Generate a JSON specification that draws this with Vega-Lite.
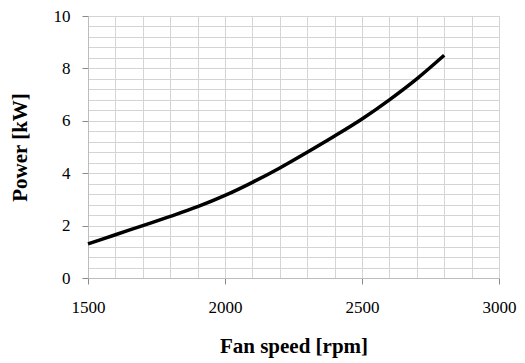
{
  "$schema": "https://vega.github.io/schema/vega-lite/v6.json",
  "autosize": "none",
  "padding": {"left": 88, "top": 16, "right": 26, "bottom": 85},
  "width": 411,
  "height": 262,
  "background": "white",
  "config": {
    "font": "Liberation Serif",
    "view": {"stroke": "#d4d4d4", "strokeWidth": 1},
    "style": {"guide-label": {"font": "Liberation Serif", "fontSize": 17, "fill": "#000"}, "guide-title": {"font": "Liberation Serif"}},
    "axis": {"labelFont": "Liberation Serif", "labelFontSize": 17, "titleFont": "Liberation Serif", "labelColor": "#000", "titleColor": "#000", "gridColor": "#d4d4d4", "gridWidth": 1, "domainColor": "#bcbcbc", "tickColor": "#8a8a8a"}
  },
  "data": {"values": [
    {"speed": 1500, "power": 1.3},
    {"speed": 1600, "power": 1.65},
    {"speed": 1700, "power": 2.0},
    {"speed": 1800, "power": 2.35},
    {"speed": 1900, "power": 2.72},
    {"speed": 2000, "power": 3.15},
    {"speed": 2100, "power": 3.65},
    {"speed": 2200, "power": 4.2},
    {"speed": 2300, "power": 4.8},
    {"speed": 2400, "power": 5.42},
    {"speed": 2500, "power": 6.07},
    {"speed": 2600, "power": 6.8},
    {"speed": 2700, "power": 7.6},
    {"speed": 2800, "power": 8.5}
  ]},
  "layer": [
    {
      "mark": {"type": "line", "opacity": 0},
      "encoding": {
        "x": {
          "field": "speed", "type": "quantitative",
          "scale": {"domain": [1500, 3000], "nice": false, "zero": false},
          "axis": {"title": null, "orient": "bottom", "labels": false, "ticks": false, "domain": false, "grid": true,
            "values": [1500,1600,1700,1800,1900,2000,2100,2200,2300,2400,2500,2600,2700,2800,2900,3000]}
        },
        "y": {
          "field": "power", "type": "quantitative",
          "scale": {"domain": [0, 10], "nice": false},
          "axis": {"title": null, "orient": "left", "labels": false, "ticks": false, "domain": false, "grid": true,
            "values": [0,0.4,0.8,1.2,1.6,2,2.4,2.8,3.2,3.6,4,4.4,4.8,5.2,5.6,6,6.4,6.8,7.2,7.6,8,8.4,8.8,9.2,9.6,10]}
        }
      }
    },
    {
      "mark": {"type": "line", "color": "#000", "strokeWidth": 3.5, "interpolate": "monotone"},
      "encoding": {
        "x": {
          "field": "speed", "type": "quantitative",
          "scale": {"domain": [1500, 3000], "nice": false, "zero": false},
          "axis": {
            "title": "Fan speed [rpm]", "orient": "bottom", "grid": false,
            "titleFont": "Liberation Serif", "titleFontSize": 21, "titleFontWeight": "bold", "titlePadding": 20,
            "values": [1500, 2000, 2500, 3000], "format": "d",
            "labelFont": "Liberation Serif", "labelFontSize": 17, "labelPadding": 15,
            "tickSize": 6, "labelFlush": false
          }
        },
        "y": {
          "field": "power", "type": "quantitative",
          "scale": {"domain": [0, 10], "nice": false},
          "axis": {
            "title": "Power [kW]", "orient": "left", "grid": false,
            "titleFont": "Liberation Serif", "titleFontSize": 21, "titleFontWeight": "bold", "titlePadding": 23,
            "values": [0, 2, 4, 6, 8, 10], "format": "d",
            "labelFont": "Liberation Serif", "labelFontSize": 17, "labelPadding": 12,
            "tickSize": 6, "labelFlush": false
          }
        }
      }
    }
  ],
  "resolve": {"axis": {"x": "independent", "y": "independent"}}
}
